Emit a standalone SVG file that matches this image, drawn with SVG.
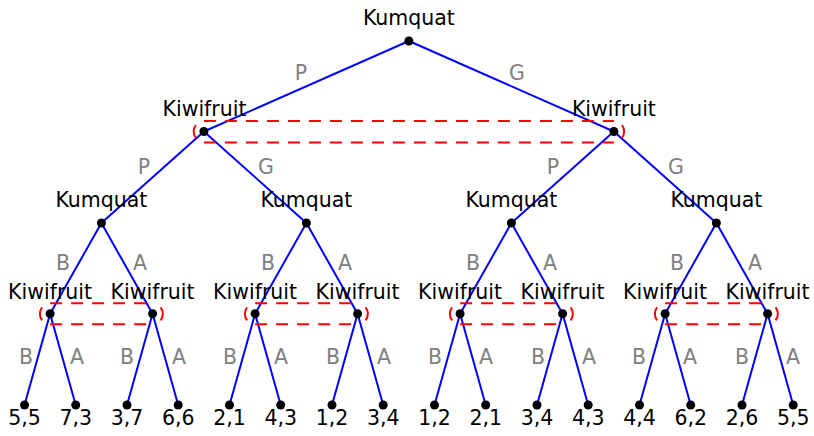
<svg xmlns="http://www.w3.org/2000/svg" width="814" height="436" viewBox="0 0 814 436">
<style>
.e{stroke:#0000ff;stroke-width:2;fill:none}
.d{fill:#000}
.t{font-family:"DejaVu Sans",sans-serif;font-size:20.5px;fill:#000;text-anchor:middle}
.l{font-family:"DejaVu Sans",sans-serif;font-size:20.5px;fill:#808080;text-anchor:middle}
.i{stroke:#ff0000;stroke-width:2;fill:none;stroke-dasharray:12 9}
.p{stroke:#ff0000;stroke-width:2;fill:none}
</style>
<rect width="814" height="436" fill="#fff"/>
<g id="connectors">
<path class="e" d="M408.9,41L203.9,131.5M408.9,41L613.9,131.5"/>
<path class="e" d="M203.9,131.5L101.4,223M203.9,131.5L306.4,223M613.9,131.5L511.4,223M613.9,131.5L716.4,223"/>
<path class="e" d="M101.4,223L50.1,313.8M101.4,223L152.6,313.8M306.4,223L255.1,313.8M306.4,223L357.6,313.8M511.4,223L460.1,313.8M511.4,223L562.6,313.8M716.4,223L665.1,313.8M716.4,223L767.6,313.8"/>
<path class="e" d="M50.1,313.8L24.5,405M50.1,313.8L75.7,405M152.6,313.8L127,405M152.6,313.8L178.2,405M255.1,313.8L229.5,405M255.1,313.8L280.7,405M357.6,313.8L332,405M357.6,313.8L383.2,405M460.1,313.8L434.5,405M460.1,313.8L485.7,405M562.6,313.8L537,405M562.6,313.8L588.2,405M665.1,313.8L639.5,405M665.1,313.8L690.7,405M767.6,313.8L742,405M767.6,313.8L793.2,405"/>
<g class="l">
<text x="301" y="80">P</text><text x="517" y="80">G</text>
<text x="144" y="174">P</text><text x="266" y="174">G</text><text x="553" y="174">P</text><text x="676" y="174">G</text>
<text x="63" y="270">B</text><text x="140" y="270">A</text><text x="268" y="270">B</text><text x="345" y="270">A</text>
<text x="473" y="270">B</text><text x="550" y="270">A</text><text x="677" y="270">B</text><text x="755" y="270">A</text>
<text x="26" y="364">B</text><text x="77" y="364">A</text><text x="127" y="364">B</text><text x="179" y="364">A</text>
<text x="230" y="364">B</text><text x="281" y="364">A</text><text x="333" y="364">B</text><text x="384" y="364">A</text>
<text x="435" y="364">B</text><text x="486" y="364">A</text><text x="538" y="364">B</text><text x="589" y="364">A</text>
<text x="639" y="364">B</text><text x="690" y="364">A</text><text x="742" y="364">B</text><text x="793" y="364">A</text>
</g>
</g>
<g id="infosets">
<path class="i" d="M203.9,121H613.9M203.9,142.5H613.9"/>
<path class="p" d="M195.9,125A10.5,10.5 0 0 0 195.9,138M621.9,125A10.5,10.5 0 0 1 621.9,138"/>
<path class="i" d="M50.1,303.3H152.6M50.1,324.3H152.6M255.1,303.3H357.6M255.1,324.3H357.6M460.1,303.3H562.6M460.1,324.3H562.6M665.1,303.3H767.6M665.1,324.3H767.6"/>
<path class="p" d="M42.1,307.3A10.5,10.5 0 0 0 42.1,320.3M160.6,307.3A10.5,10.5 0 0 1 160.6,320.3M247.1,307.3A10.5,10.5 0 0 0 247.1,320.3M365.6,307.3A10.5,10.5 0 0 1 365.6,320.3M452.1,307.3A10.5,10.5 0 0 0 452.1,320.3M570.6,307.3A10.5,10.5 0 0 1 570.6,320.3M657.1,307.3A10.5,10.5 0 0 0 657.1,320.3M775.6,307.3A10.5,10.5 0 0 1 775.6,320.3"/>
</g>
<g id="n0"><circle class="d" cx="408.9" cy="41" r="4.5"/><text class="t" x="408.9" y="25">Kumquat</text></g>
<g id="n1"><circle class="d" cx="203.9" cy="131.5" r="4.5"/><text class="t" x="204.5" y="116">Kiwifruit</text></g>
<g id="n2"><circle class="d" cx="613.9" cy="131.5" r="4.5"/><text class="t" x="613.9" y="116">Kiwifruit</text></g>
<g id="n3"><circle class="d" cx="101.4" cy="223" r="4.5"/><text class="t" x="101.4" y="207">Kumquat</text></g>
<g id="n4"><circle class="d" cx="306.4" cy="223" r="4.5"/><text class="t" x="306.4" y="207">Kumquat</text></g>
<g id="n5"><circle class="d" cx="511.4" cy="223" r="4.5"/><text class="t" x="511.4" y="207">Kumquat</text></g>
<g id="n6"><circle class="d" cx="716.4" cy="223" r="4.5"/><text class="t" x="716.4" y="207">Kumquat</text></g>
<g id="n7"><circle class="d" cx="50.1" cy="313.8" r="4.5"/><text class="t" x="50.1" y="299">Kiwifruit</text></g>
<g id="n8"><circle class="d" cx="152.6" cy="313.8" r="4.5"/><text class="t" x="152.6" y="299">Kiwifruit</text></g>
<g id="n9"><circle class="d" cx="255.1" cy="313.8" r="4.5"/><text class="t" x="255.1" y="299">Kiwifruit</text></g>
<g id="n10"><circle class="d" cx="357.6" cy="313.8" r="4.5"/><text class="t" x="357.6" y="299">Kiwifruit</text></g>
<g id="n11"><circle class="d" cx="460.1" cy="313.8" r="4.5"/><text class="t" x="460.1" y="299">Kiwifruit</text></g>
<g id="n12"><circle class="d" cx="562.6" cy="313.8" r="4.5"/><text class="t" x="562.6" y="299">Kiwifruit</text></g>
<g id="n13"><circle class="d" cx="665.1" cy="313.8" r="4.5"/><text class="t" x="665.1" y="299">Kiwifruit</text></g>
<g id="n14"><circle class="d" cx="767.6" cy="313.8" r="4.5"/><text class="t" x="767.6" y="299">Kiwifruit</text></g>
<g id="leaf1"><circle class="d" cx="24.5" cy="405" r="4.5"/><text class="t" x="24.5" y="425">5,5</text></g>
<g id="leaf2"><circle class="d" cx="75.7" cy="405" r="4.5"/><text class="t" x="75.7" y="425">7,3</text></g>
<g id="leaf3"><circle class="d" cx="127" cy="405" r="4.5"/><text class="t" x="127" y="425">3,7</text></g>
<g id="leaf4"><circle class="d" cx="178.2" cy="405" r="4.5"/><text class="t" x="178.2" y="425">6,6</text></g>
<g id="leaf5"><circle class="d" cx="229.5" cy="405" r="4.5"/><text class="t" x="229.5" y="425">2,1</text></g>
<g id="leaf6"><circle class="d" cx="280.7" cy="405" r="4.5"/><text class="t" x="280.7" y="425">4,3</text></g>
<g id="leaf7"><circle class="d" cx="332" cy="405" r="4.5"/><text class="t" x="332" y="425">1,2</text></g>
<g id="leaf8"><circle class="d" cx="383.2" cy="405" r="4.5"/><text class="t" x="383.2" y="425">3,4</text></g>
<g id="leaf9"><circle class="d" cx="434.5" cy="405" r="4.5"/><text class="t" x="434.5" y="425">1,2</text></g>
<g id="leaf10"><circle class="d" cx="485.7" cy="405" r="4.5"/><text class="t" x="485.7" y="425">2,1</text></g>
<g id="leaf11"><circle class="d" cx="537" cy="405" r="4.5"/><text class="t" x="537" y="425">3,4</text></g>
<g id="leaf12"><circle class="d" cx="588.2" cy="405" r="4.5"/><text class="t" x="588.2" y="425">4,3</text></g>
<g id="leaf13"><circle class="d" cx="639.5" cy="405" r="4.5"/><text class="t" x="639.5" y="425">4,4</text></g>
<g id="leaf14"><circle class="d" cx="690.7" cy="405" r="4.5"/><text class="t" x="690.7" y="425">6,2</text></g>
<g id="leaf15"><circle class="d" cx="742" cy="405" r="4.5"/><text class="t" x="742" y="425">2,6</text></g>
<g id="leaf16"><circle class="d" cx="793.2" cy="405" r="4.5"/><text class="t" x="793.2" y="425">5,5</text></g>
</svg>
